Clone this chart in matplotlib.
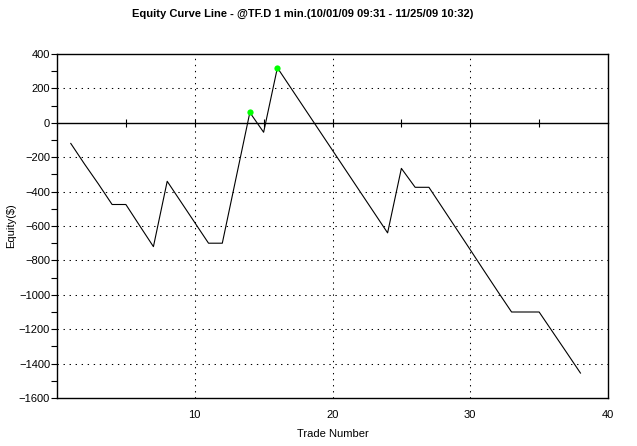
import matplotlib
matplotlib.use("Agg")
import matplotlib.pyplot as plt
import numpy as np
from matplotlib.ticker import MultipleLocator

plt.rcParams['font.family'] = ['Liberation Sans', 'DejaVu Sans']

title = "Equity Curve Line - @TF.D 1 min.(10/01/09 09:31 - 11/25/09 10:32)"
trade_number = list(range(1, 39))
equity = [-120, -240, -355, -475, -475, -598, -720, -340, -460, -580,
          -700, -700, -320, 60, -55, 320, 200, 80, -40, -160,
          -280, -400, -520, -640, -265, -375, -375, -496, -617, -738,
          -860, -981, -1100, -1100, -1100, -1218, -1336, -1455]

x = np.array(trade_number)
y = np.array(equity)
run_max = np.maximum.accumulate(np.concatenate([[0], y]))[:-1]
is_high = y > run_max

fig = plt.figure(figsize=(6.37, 4.46), dpi=100)
ax = fig.add_axes([57/637, 1-398/446, (608-57)/637, (398-54)/446])

ax.set_xlim(0, 40)
ax.set_ylim(-1600, 400)

grid_style = dict(color='black', linewidth=0.75, linestyle=(0, (1.3, 4.5)))
for gx in [10, 20, 30]:
    ax.axvline(gx, **grid_style, zorder=1)
for gy in [200, -200, -400, -600, -800, -1000, -1200, -1400]:
    ax.axhline(gy, **grid_style, zorder=1)

ax.plot(x, y, color='black', linewidth=0.8, zorder=3)
ax.plot(x[is_high], y[is_high], 'o', color='#00ff00', markersize=4.5,
        markeredgewidth=0, zorder=4)

# y axis
ax.yaxis.set_major_locator(MultipleLocator(200))
ax.yaxis.set_minor_locator(MultipleLocator(100))
ax.tick_params(axis='y', which='both', direction='out', length=4, width=0.8,
               labelsize=8, pad=1)

# x axis labels at bottom, no tick marks
ax.set_xticks([10, 20, 30, 40])
ax.tick_params(axis='x', which='both', length=0, labelsize=8, pad=9)

# zero line with ticks
sec = ax.secondary_xaxis(0.8)
sec.set_xticks([5, 10, 15, 20, 25, 30, 35])
sec.set_xticklabels([])
sec.tick_params(axis='x', direction='inout', length=6, width=0.8)
sec.spines['top'].set_linewidth(1.0)
sec.spines['bottom'].set_linewidth(1.0)

for s in ax.spines.values():
    s.set_linewidth(1.0)

ax.set_xlabel("Trade Number", fontsize=8, labelpad=6)
ax.set_ylabel("Equity($)", fontsize=8, labelpad=2)
fig.text(303/637, 1-14/446, title, ha='center', va='center',
         fontsize=8, fontweight='bold')

fig.savefig("out.png", dpi=100)
